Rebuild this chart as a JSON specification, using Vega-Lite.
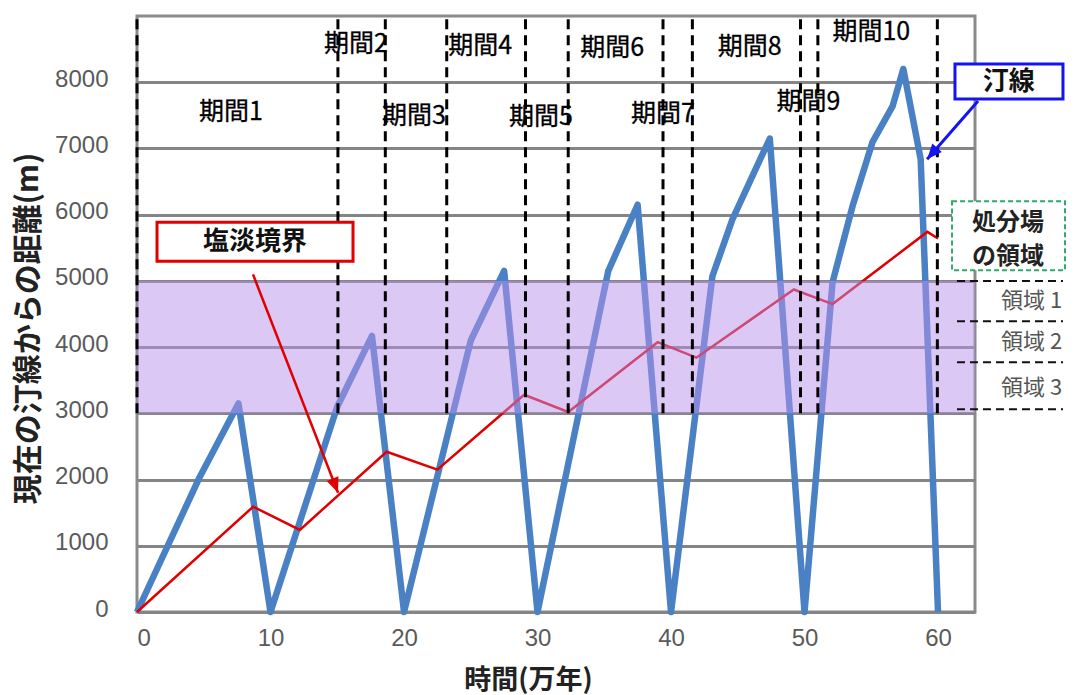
{
  "$schema": "https://vega.github.io/schema/vega-lite/v6.json",
  "width": 838,
  "height": 596,
  "autosize": "none",
  "padding": {"left": 137, "top": 16, "right": 108, "bottom": 83},
  "background": "white",
  "config": {
    "view": {"stroke": "#8a8a8a", "strokeWidth": 3},
    "font": "Noto Sans CJK JP"
  },
  "datasets": {
    "shore": [
      {"t": 0, "d": 0}, {"t": 4.7, "d": 2040}, {"t": 7.6, "d": 3150}, {"t": 10, "d": 0},
      {"t": 15, "d": 3100}, {"t": 17.6, "d": 4170}, {"t": 20, "d": 0},
      {"t": 25, "d": 4100}, {"t": 27.5, "d": 5150}, {"t": 30, "d": 0},
      {"t": 35.3, "d": 5150}, {"t": 37.5, "d": 6150}, {"t": 40, "d": 0},
      {"t": 43.1, "d": 5070}, {"t": 44.6, "d": 5930}, {"t": 47.4, "d": 7150}, {"t": 50, "d": 0},
      {"t": 52.1, "d": 4980}, {"t": 53.6, "d": 6130}, {"t": 55.1, "d": 7100}, {"t": 56.6, "d": 7640},
      {"t": 57.4, "d": 8200}, {"t": 58.7, "d": 6840}, {"t": 60, "d": 0}
    ],
    "boundary": [
      {"t": 0, "d": 0}, {"t": 8.7, "d": 1590}, {"t": 12.2, "d": 1240}, {"t": 18.7, "d": 2420},
      {"t": 22.5, "d": 2150}, {"t": 29, "d": 3280}, {"t": 32.3, "d": 3020}, {"t": 39, "d": 4075},
      {"t": 41.9, "d": 3840}, {"t": 49.2, "d": 4870}, {"t": 52.1, "d": 4650}, {"t": 59.2, "d": 5740},
      {"t": 60, "d": 5640}
    ],
    "band": [{"t0": 0, "t1": 62.77, "d0": 3000, "d1": 5000}],
    "periodLines": [
      {"t": 0}, {"t": 15.05}, {"t": 18.6}, {"t": 23.2}, {"t": 29.1}, {"t": 32.3},
      {"t": 39.4}, {"t": 41.6}, {"t": 49.7}, {"t": 51.0}, {"t": 59.95}
    ],
    "periodLabels": [
      {"label": "期間1", "t": 7.04, "d": 7549},
      {"label": "期間2", "t": 16.4, "d": 8578},
      {"label": "期間3", "t": 20.75, "d": 7489},
      {"label": "期間4", "t": 25.7, "d": 8548},
      {"label": "期間5", "t": 30.26, "d": 7474},
      {"label": "期間6", "t": 35.6, "d": 8517},
      {"label": "期間7", "t": 39.4, "d": 7519},
      {"label": "期間8", "t": 45.9, "d": 8533},
      {"label": "期間9", "t": 50.3, "d": 7700},
      {"label": "期間10", "t": 55.0, "d": 8760}
    ],
    "redBox": [{"t0": 1.5, "t1": 16.18, "d0": 5295, "d1": 5885, "label": "塩淡境界", "tc": 8.84, "dc": 5590}],
    "blueBox": [{"t0": 61.27, "t1": 69.36, "d0": 7746, "d1": 8275, "label": "汀線", "tc": 65.3, "dc": 8010}],
    "greenBox": [{"t0": 61.05, "t1": 69.51, "d0": 5159, "d1": 6203}],
    "greenText": [
      {"label": "処分場", "tc": 65.24, "dc": 5870},
      {"label": "の領域", "tc": 65.24, "dc": 5360}
    ],
    "redArrow": [{"t0": 8.69, "d0": 5098, "t1": 15.06, "d1": 1800, "angle": 338.7}],
    "blueArrow": [{"t0": 63.0, "d0": 7716, "t1": 59.18, "d1": 6838, "angle": 41.3}],
    "regionLines": [
      {"t0": 61.42, "t1": 69.36, "d": 5000},
      {"t0": 61.42, "t1": 69.36, "d": 4390},
      {"t0": 61.42, "t1": 69.36, "d": 3770},
      {"t0": 61.42, "t1": 69.36, "d": 3060}
    ],
    "regionLabels": [
      {"label": "領域 1", "t": 69.3, "d": 4690},
      {"label": "領域 2", "t": 69.3, "d": 4070},
      {"label": "領域 3", "t": 69.3, "d": 3390}
    ]
  },
  "layer": [
    {
      "data": {"name": "shore"},
      "mark": {"type": "line", "color": "#4a80c4", "strokeWidth": 6.5, "strokeJoin": "round"},
      "encoding": {
        "x": {
          "field": "t", "type": "quantitative",
          "scale": {"domain": [0, 62.77], "nice": false, "zero": true},
          "axis": {
            "values": [0, 10, 20, 30, 40, 50, 60],
            "grid": false, "domain": false, "ticks": false, "tickSize": 0,
            "labelFont": "Liberation Sans", "labelFontSize": 24, "labelColor": "#5a5a5a",
            "labelPadding": 14,
            "title": "時間(万年)", "titleFont": "Noto Sans CJK JP", "titleFontSize": 27,
            "titleFontWeight": "bold", "titleColor": "#222222",
            "titleX": 391, "titleY": 68, "titleBaseline": "middle", "titleAlign": "center"
          }
        },
        "y": {
          "field": "d", "type": "quantitative",
          "scale": {"domain": [0, 9000], "nice": false},
          "axis": {
            "values": [0, 1000, 2000, 3000, 4000, 5000, 6000, 7000, 8000],
            "format": "d",
            "grid": true, "gridColor": "#858585", "gridWidth": 3,
            "domain": false, "ticks": false, "tickSize": 0,
            "labelFont": "Liberation Sans", "labelFontSize": 24, "labelColor": "#5a5a5a",
            "labelPadding": 29, "labelOffset": -3,
            "title": "現在の汀線からの距離(m)", "titleFont": "Noto Sans CJK JP", "titleFontSize": 30,
            "titleFontWeight": "bold", "titleColor": "#222222",
            "titleX": -109, "titleY": 312, "titleBaseline": "middle", "titleAlign": "center", "titleAngle": -90
          }
        }
      }
    },
    {
      "data": {"name": "boundary"},
      "mark": {"type": "line", "color": "#e00000", "strokeWidth": 2.5},
      "encoding": {
        "x": {"field": "t", "type": "quantitative", "scale": {"domain": [0, 62.77], "nice": false}},
        "y": {"field": "d", "type": "quantitative", "scale": {"domain": [0, 9000], "nice": false}}
      }
    },
    {
      "data": {"name": "band"},
      "mark": {"type": "rect", "color": "#b991eb", "opacity": 0.5},
      "encoding": {
        "x": {"field": "t0", "type": "quantitative", "scale": {"domain": [0, 62.77], "nice": false}},
        "x2": {"field": "t1"},
        "y": {"field": "d0", "type": "quantitative", "scale": {"domain": [0, 9000], "nice": false}},
        "y2": {"field": "d1"}
      }
    },
    {
      "data": {"name": "periodLines"},
      "mark": {"type": "rule", "color": "#000000", "strokeWidth": 3, "strokeDash": [10, 6]},
      "encoding": {
        "x": {"field": "t", "type": "quantitative", "scale": {"domain": [0, 62.77], "nice": false}},
        "y": {"datum": 3000, "type": "quantitative", "scale": {"domain": [0, 9000], "nice": false}},
        "y2": {"datum": 9000}
      }
    },
    {
      "data": {"name": "periodLabels"},
      "mark": {"type": "text", "font": "Noto Sans CJK JP", "fontSize": 25, "fontWeight": "normal", "color": "#000000", "align": "center", "baseline": "middle", "stroke": "#000000", "strokeWidth": 0.3},
      "encoding": {
        "x": {"field": "t", "type": "quantitative", "scale": {"domain": [0, 62.77], "nice": false}},
        "y": {"field": "d", "type": "quantitative", "scale": {"domain": [0, 9000], "nice": false}},
        "text": {"field": "label"}
      }
    },
    {
      "data": {"name": "redBox"},
      "mark": {"type": "rect", "fill": "white", "stroke": "#e00000", "strokeWidth": 3},
      "encoding": {
        "x": {"field": "t0", "type": "quantitative", "scale": {"domain": [0, 62.77], "nice": false}},
        "x2": {"field": "t1"},
        "y": {"field": "d0", "type": "quantitative", "scale": {"domain": [0, 9000], "nice": false}},
        "y2": {"field": "d1"}
      }
    },
    {
      "data": {"name": "redBox"},
      "mark": {"type": "text", "font": "Noto Sans CJK JP", "fontSize": 26, "fontWeight": "bold", "color": "#111111", "align": "center", "baseline": "middle"},
      "encoding": {
        "x": {"field": "tc", "type": "quantitative", "scale": {"domain": [0, 62.77], "nice": false}},
        "y": {"field": "dc", "type": "quantitative", "scale": {"domain": [0, 9000], "nice": false}},
        "text": {"field": "label"}
      }
    },
    {
      "data": {"name": "blueBox"},
      "mark": {"type": "rect", "fill": "white", "stroke": "#1414f0", "strokeWidth": 3},
      "encoding": {
        "x": {"field": "t0", "type": "quantitative", "scale": {"domain": [0, 62.77], "nice": false}},
        "x2": {"field": "t1"},
        "y": {"field": "d0", "type": "quantitative", "scale": {"domain": [0, 9000], "nice": false}},
        "y2": {"field": "d1"}
      }
    },
    {
      "data": {"name": "blueBox"},
      "mark": {"type": "text", "font": "Noto Sans CJK JP", "fontSize": 26, "fontWeight": "bold", "color": "#111111", "align": "center", "baseline": "middle"},
      "encoding": {
        "x": {"field": "tc", "type": "quantitative", "scale": {"domain": [0, 62.77], "nice": false}},
        "y": {"field": "dc", "type": "quantitative", "scale": {"domain": [0, 9000], "nice": false}},
        "text": {"field": "label"}
      }
    },
    {
      "data": {"name": "greenBox"},
      "mark": {"type": "rect", "fill": "white", "stroke": "#2eaa6a", "strokeWidth": 2, "strokeDash": [5, 3]},
      "encoding": {
        "x": {"field": "t0", "type": "quantitative", "scale": {"domain": [0, 62.77], "nice": false}},
        "x2": {"field": "t1"},
        "y": {"field": "d0", "type": "quantitative", "scale": {"domain": [0, 9000], "nice": false}},
        "y2": {"field": "d1"}
      }
    },
    {
      "data": {"name": "greenText"},
      "mark": {"type": "text", "font": "Noto Sans CJK JP", "fontSize": 24, "fontWeight": "bold", "color": "#222222", "align": "center", "baseline": "middle"},
      "encoding": {
        "x": {"field": "tc", "type": "quantitative", "scale": {"domain": [0, 62.77], "nice": false}},
        "y": {"field": "dc", "type": "quantitative", "scale": {"domain": [0, 9000], "nice": false}},
        "text": {"field": "label"}
      }
    },
    {
      "data": {"name": "redArrow"},
      "mark": {"type": "rule", "color": "#e00000", "strokeWidth": 2.5},
      "encoding": {
        "x": {"field": "t0", "type": "quantitative", "scale": {"domain": [0, 62.77], "nice": false}},
        "y": {"field": "d0", "type": "quantitative", "scale": {"domain": [0, 9000], "nice": false}},
        "x2": {"field": "t1"},
        "y2": {"field": "d1"}
      }
    },
    {
      "data": {"name": "redArrow"},
      "mark": {"type": "point", "shape": "M0,0L-1,-2.4L1,-2.4Z", "filled": true, "color": "#e00000", "size": 160, "opacity": 1},
      "encoding": {
        "x": {"field": "t1", "type": "quantitative", "scale": {"domain": [0, 62.77], "nice": false}},
        "y": {"field": "d1", "type": "quantitative", "scale": {"domain": [0, 9000], "nice": false}},
        "angle": {"field": "angle", "type": "quantitative", "scale": null}
      }
    },
    {
      "data": {"name": "blueArrow"},
      "mark": {"type": "rule", "color": "#1414f0", "strokeWidth": 3},
      "encoding": {
        "x": {"field": "t0", "type": "quantitative", "scale": {"domain": [0, 62.77], "nice": false}},
        "y": {"field": "d0", "type": "quantitative", "scale": {"domain": [0, 9000], "nice": false}},
        "x2": {"field": "t1"},
        "y2": {"field": "d1"}
      }
    },
    {
      "data": {"name": "blueArrow"},
      "mark": {"type": "point", "shape": "M0,0L-1,-2.4L1,-2.4Z", "filled": true, "color": "#1414f0", "size": 160, "opacity": 1},
      "encoding": {
        "x": {"field": "t1", "type": "quantitative", "scale": {"domain": [0, 62.77], "nice": false}},
        "y": {"field": "d1", "type": "quantitative", "scale": {"domain": [0, 9000], "nice": false}},
        "angle": {"field": "angle", "type": "quantitative", "scale": null}
      }
    },
    {
      "data": {"name": "regionLines"},
      "mark": {"type": "rule", "color": "#111111", "strokeWidth": 2, "strokeDash": [8, 5]},
      "encoding": {
        "x": {"field": "t0", "type": "quantitative", "scale": {"domain": [0, 62.77], "nice": false}},
        "x2": {"field": "t1"},
        "y": {"field": "d", "type": "quantitative", "scale": {"domain": [0, 9000], "nice": false}}
      }
    },
    {
      "data": {"name": "regionLabels"},
      "mark": {"type": "text", "font": "Noto Sans CJK JP", "fontSize": 22, "color": "#555555", "align": "right", "baseline": "middle"},
      "encoding": {
        "x": {"field": "t", "type": "quantitative", "scale": {"domain": [0, 62.77], "nice": false}},
        "y": {"field": "d", "type": "quantitative", "scale": {"domain": [0, 9000], "nice": false}},
        "text": {"field": "label"}
      }
    }
  ]
}
